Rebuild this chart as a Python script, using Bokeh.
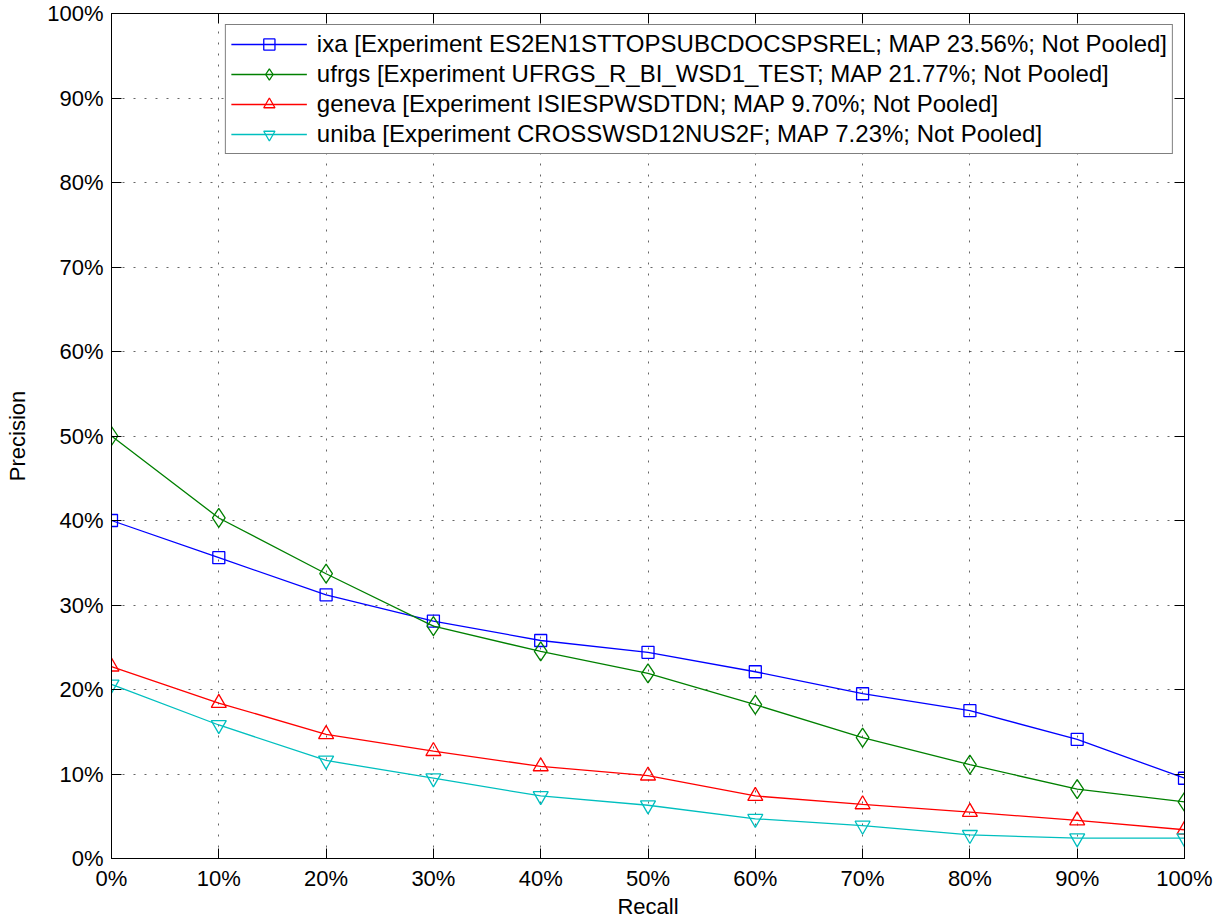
import numpy as np
from bokeh.plotting import figure
from bokeh.models import (FixedTicker, PrintfTickFormatter, LinearAxis, Range1d,
                          Legend, LegendItem, CustomLabelingPolicy)
from bokeh.embed import file_html
from bokeh.resources import INLINE

# ---- data (percent) ----
recall = [0, 10, 20, 30, 40, 50, 60, 70, 80, 90, 100]
ixa    = [40.0, 35.6, 31.2, 28.1, 25.8, 24.4, 22.1, 19.5, 17.5, 14.1, 9.5]
ufrgs  = [50.0, 40.3, 33.7, 27.5, 24.5, 21.9, 18.2, 14.3, 11.1, 8.2, 6.7]
geneva = [22.7, 18.4, 14.7, 12.7, 10.9, 9.8, 7.4, 6.4, 5.5, 4.5, 3.4]
uniba  = [20.6, 15.8, 11.6, 9.5, 7.4, 6.3, 4.7, 3.9, 2.8, 2.4, 2.4]

labels = [
    "ixa [Experiment ES2EN1STTOPSUBCDOCSPSREL; MAP 23.56%; Not Pooled]",
    "ufrgs [Experiment UFRGS_R_BI_WSD1_TEST; MAP 21.77%; Not Pooled]",
    "geneva [Experiment ISIESPWSDTDN; MAP 9.70%; Not Pooled]",
    "uniba [Experiment CROSSWSD12NUS2F; MAP 7.23%; Not Pooled]",
]
tick_values = [0, 10, 20, 30, 40, 50, 60, 70, 80, 90, 100]
x_title = "Recall"
y_title = "Precision"

FONT = "Liberation Sans"

p = figure(width=1219, height=921, output_backend="svg", toolbar_location=None,
           x_range=Range1d(0, 100), y_range=Range1d(0, 100),
           min_border_left=111, min_border_right=35,
           min_border_top=13, min_border_bottom=62,
           background_fill_color="white", border_fill_color="white")
p.outline_line_color = "black"
p.outline_line_width = 1

ticker = FixedTicker(ticks=tick_values)
fmt = PrintfTickFormatter(format="%d%%")

for ax in (p.xaxis[0], p.yaxis[0]):
    ax.ticker = ticker
    ax.formatter = fmt
    ax.major_tick_in = 10
    ax.major_tick_out = 0
    ax.minor_tick_line_color = None
    ax.axis_line_color = "black"
    ax.major_tick_line_color = "black"
    ax.major_label_text_font = FONT
    ax.major_label_text_font_size = "22px"
    ax.major_label_text_color = "black"
    ax.axis_label_text_font = FONT
    ax.axis_label_text_font_size = "22px"
    ax.axis_label_text_font_style = "normal"
    ax.axis_label_text_color = "black"

p.xaxis[0].axis_label = x_title
p.xaxis[0].major_label_standoff = 7
p.xaxis[0].axis_label_standoff = 0
p.yaxis[0].axis_label = y_title
p.yaxis[0].major_label_standoff = 8
p.yaxis[0].axis_label_standoff = 14

hide_all = CustomLabelingPolicy(code="""
const keep = []
for (const i of indices) keep.push(i)
for (const i of keep) indices.unset(i)
return indices
""")

for side in ("above", "right"):
    ax = LinearAxis(ticker=ticker, formatter=fmt,
                    major_label_text_font_size="1px", major_label_standoff=0,
                    major_label_policy=hide_all,
                    axis_label_standoff=0, axis_label_text_font_size="1px",
                    major_tick_in=10, major_tick_out=0,
                    minor_tick_line_color=None, axis_line_color="black",
                    major_tick_line_color="black")
    p.add_layout(ax, side)

for g in (p.xgrid[0], p.ygrid[0]):
    g.grid_line_color = "black"
    g.grid_line_alpha = 0.6
    g.grid_line_dash = "2 9"
    g.grid_line_width = 1

series = [
    (ixa, "#0000ff", "square", 12),
    (ufrgs, "#008000", "diamond", 19),
    (geneva, "#ff0000", "triangle", 15),
    (uniba, "#00bfbf", "inverted_triangle", 15),
]

items = []
for (vals, color, marker, size), lab in zip(series, labels):
    r1 = p.line(recall, vals, line_color=color, line_width=1.3)
    r2 = p.scatter(recall, vals, marker=marker, size=size,
                   line_color=color, fill_color=None, line_width=1.3)
    items.append(LegendItem(label=lab, renderers=[r1, r2]))

legend = Legend(items=items, location="top_right", margin=11, padding=5,
                spacing=2, glyph_width=76, glyph_height=28, label_height=28,
                label_standoff=10, label_text_font=FONT,
                label_text_font_size="24px", label_text_color="black",
                border_line_color="black", border_line_width=1,
                background_fill_color="white", background_fill_alpha=1.0)
p.add_layout(legend)

open("out.html", "w").write(file_html(p, INLINE))
